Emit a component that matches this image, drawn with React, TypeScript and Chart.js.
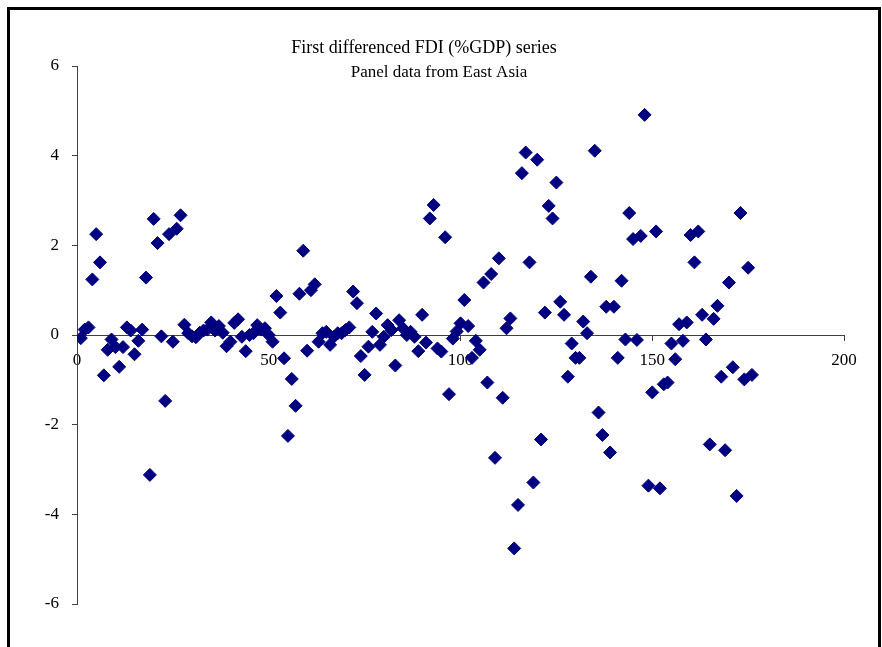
import React, { useEffect, useRef } from "react";
import { Chart, registerables } from "chart.js";

Chart.register(...registerables);

const TITLE_LINES = ["First differenced FDI (%GDP) series", "Panel data from East Asia"];

// First differenced FDI (%GDP), observations 1..176
const FDI_DIFF = [
  -0.07, 0.12, 0.17, 1.24, 2.25, 1.62, -0.9, -0.33, -0.1, -0.27,
  -0.71, -0.27, 0.17, 0.1, -0.43, -0.13, 0.12, 1.28, -3.12, 2.59,
  2.05, -0.03, -1.47, 2.25, -0.15, 2.37, 2.67, 0.23, 0.04, -0.03,
  -0.05, 0.05, 0.1, 0.12, 0.28, 0.1, 0.2, 0.05, -0.25, -0.15,
  0.27, 0.35, -0.04, -0.36, 0.0, 0.04, 0.22, 0.12, 0.15, 0.0,
  -0.15, 0.87, 0.5, -0.52, -2.25, -0.98, -1.58, 0.92, 1.88, -0.35,
  1.0, 1.13, -0.15, 0.04, 0.07, -0.22, -0.04, 0.04, 0.04, 0.11,
  0.17, 0.97, 0.71, -0.47, -0.89, -0.26, 0.07, 0.48, -0.22, -0.04,
  0.22, 0.11, -0.68, 0.33, 0.15, 0.0, 0.07, -0.04, -0.36, 0.45,
  -0.17, 2.6, 2.9, -0.3, -0.37, 2.18, -1.32, -0.08, 0.08, 0.26,
  0.78, 0.2, -0.51, -0.13, -0.33, 1.17, -1.06, 1.36, -2.74, 1.71,
  -1.4, 0.15, 0.37, -4.76, -3.79, 3.61, 4.07, 1.62, -3.29, 3.91,
  -2.33, 0.5, 2.88, 2.6, 3.4, 0.74, 0.45, -0.93, -0.19, -0.51,
  -0.51, 0.3, 0.04, 1.3, 4.11, -1.73, -2.23, 0.63, -2.62, 0.63,
  -0.51, 1.21, -0.1, 2.72, 2.14, -0.11, 2.21, 4.91, -3.36, -1.28,
  2.31, -3.42, -1.1, -1.06, -0.19, -0.54, 0.24, -0.13, 0.28, 2.23,
  1.62, 2.31, 0.45, -0.1, -2.44, 0.36, 0.65, -0.93, -2.57, 1.17,
  -0.72, -3.59, 2.72, -0.99, 1.5, -0.89,
];

const X_MIN = 0;
const X_MAX = 200;
const X_STEP = 50;
const Y_MIN = -6;
const Y_MAX = 6;
const Y_STEP = 2;

const FONT = "'Liberation Serif', 'Times New Roman', serif";
const MARK = "#000080";
const AXIS = "#404040";

export default function App() {
  const ref = useRef<HTMLCanvasElement | null>(null);

  useEffect(() => {
    if (!ref.current) return;
    const points = FDI_DIFF.map((v, i) => ({ x: i + 1, y: v }));

    const titlePlugin = {
      id: "twoLineTitle",
      afterDraw(chart: any) {
        const ctx = chart.ctx;
        ctx.save();
        ctx.fillStyle = "#000";
        ctx.textAlign = "center";
        ctx.textBaseline = "middle";
        ctx.font = `18px ${FONT}`;
        ctx.fillText(TITLE_LINES[0], 424, 48);
        ctx.font = `17px ${FONT}`;
        ctx.fillText(TITLE_LINES[1], 439, 73);
        ctx.restore();
      },
    };

    const chart = new Chart(ref.current, {
      type: "scatter",
      data: {
        datasets: [
          {
            data: points,
            pointStyle: "rectRot",
            pointRadius: 6.5,
            pointBorderWidth: 1,
            backgroundColor: MARK,
            borderColor: MARK,
          },
        ],
      },
      options: {
        animation: false,
        responsive: false,
        devicePixelRatio: 1,
        layout: { padding: { left: 0, top: 66, right: 38, bottom: 43 } },
        plugins: {
          legend: { display: false },
          title: { display: false },
          tooltip: { enabled: false },
        },
        scales: {
          x: {
            type: "linear",
            position: { y: 0 },
            min: X_MIN,
            max: X_MAX,
            ticks: {
              stepSize: X_STEP,
              color: "#000",
              font: { family: FONT, size: 17 },
              padding: 10,
              maxRotation: 0,
            },
            grid: {
              display: true,
              drawOnChartArea: false,
              drawTicks: true,
              tickLength: 5,
              color: AXIS,
            },
            border: { display: true, color: AXIS, width: 1 },
          },
          y: {
            type: "linear",
            position: "left",
            min: Y_MIN,
            max: Y_MAX,
            afterFit: (s: any) => {
              s.width = 77;
            },
            ticks: {
              stepSize: Y_STEP,
              color: "#000",
              font: { family: FONT, size: 17 },
              padding: 13,
            },
            grid: {
              display: true,
              drawOnChartArea: false,
              drawTicks: true,
              tickLength: 5,
              color: AXIS,
            },
            border: { display: true, color: AXIS, width: 1 },
          },
        },
      },
      plugins: [titlePlugin],
    });

    return () => chart.destroy();
  }, []);

  return (
    <div>
      <canvas
        ref={ref}
        width={882}
        height={647}
        style={{ position: "absolute", left: 0, top: 0, width: 882, height: 647 }}
      />
      <div
        style={{
          position: "absolute",
          left: 7,
          top: 7,
          width: 874,
          height: 640,
          boxSizing: "border-box",
          borderLeft: "3px solid #000",
          borderTop: "3px solid #000",
          borderRight: "3px solid #000",
          pointerEvents: "none",
        }}
      />
    </div>
  );
}
